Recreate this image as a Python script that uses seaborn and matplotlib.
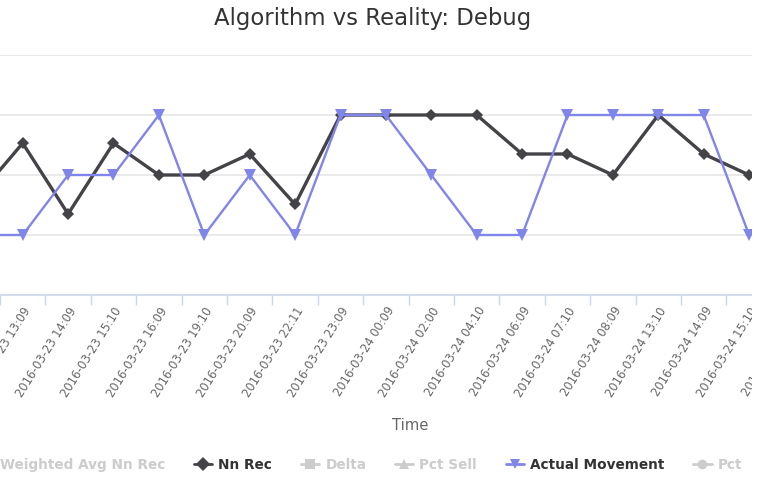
import matplotlib
matplotlib.use("Agg")
import matplotlib.pyplot as plt
from matplotlib.lines import Line2D
from matplotlib.patches import Rectangle
import numpy as np
import seaborn as sns

# categories (first and last are outside the visible crop)
times = [
    "2016-03-23 12:09", "2016-03-23 13:09", "2016-03-23 14:09", "2016-03-23 15:10",
    "2016-03-23 16:09", "2016-03-23 19:10", "2016-03-23 20:09", "2016-03-23 22:11",
    "2016-03-23 23:09", "2016-03-24 00:09", "2016-03-24 02:00", "2016-03-24 04:10",
    "2016-03-24 06:09", "2016-03-24 07:10", "2016-03-24 08:09", "2016-03-24 13:10",
    "2016-03-24 14:09", "2016-03-24 15:10", "2016-03-24 16:09",
]
nn_rec = [-0.36, 0.53, -0.65, 0.53, 0.0, 0.0, 0.35, -0.49, 1.0, 1.0,
          1.0, 1.0, 0.35, 0.35, 0.0, 1.0, 0.35, 0.0]
actual_movement = [-1, -1, 0, 0, 1, -1, 0, -1, 1, 1,
                   0, -1, -1, 1, 1, 1, 1, -1]

legend_names = ["Weighted Avg Nn Rec", "Nn Rec", "Delta", "Pct Sell", "Actual Movement", "Pct"]
legend_markers = ["o", "D", "s", "^", "v", "o"]
legend_visible = [False, True, False, False, True, False]
legend_colors = ["#cccccc", "#434348", "#cccccc", "#cccccc", "#8085e9", "#cccccc"]

sns.set_theme(style="white")
plt.rcParams['font.family'] = ['DejaVu Sans']

W, H = 780, 480
fig = plt.figure(figsize=(7.8, 4.8), dpi=100)
# plot area is wider than the picture: the screenshot was cropped
ax = fig.add_axes([-45.4 / W, 185 / H, 862.6 / W, 240 / H])

pos = np.arange(len(nn_rec))
sns.lineplot(x=pos, y=nn_rec, ax=ax, color="#434348", linewidth=2.4,
             marker="D", markersize=6, markeredgewidth=0)
sns.lineplot(x=pos, y=actual_movement, ax=ax, color="#8085e9", linewidth=1.7,
             marker="v", markersize=8, markeredgewidth=0)

ax.set_xlim(-0.5, len(times) - 0.5)
ax.set_ylim(-2, 2)
ax.set_yticks([-2, -1, 0, 1, 2])
ax.yaxis.grid(True, color="#e6e6e6", linewidth=1.2)
ax.tick_params(axis="y", left=False, labelleft=False)
for side in ["top", "right", "left"]:
    ax.spines[side].set_visible(False)
ax.spines["bottom"].set_color("#ccd6eb")
ax.spines["bottom"].set_linewidth(1.2)

ax.set_xticks(np.arange(len(times)))
ax.set_xticklabels(times, rotation=58, ha="right", va="top",
                   rotation_mode="anchor", fontsize=8.3, color="#666666")
ax.tick_params(axis="x", which="major", length=0, pad=7)
ax.set_xticks(np.arange(len(times) + 1) - 0.5, minor=True)
ax.tick_params(axis="x", which="minor", bottom=True, length=7,
               color="#ccd6eb", width=1, direction="out")

ax.set_xlabel("Time", fontsize=10.7, color="#666666")
ax.xaxis.set_label_coords((410 + 45.4) / 862.6, -123 / 240)

fig.text(373 / W, 1 - 18 / H, "Algorithm vs Reality: Debug",
         ha="center", va="center", fontsize=16.4, color="#333333")

handles = [Line2D([0], [0], color=c, lw=2, marker=m, markersize=7, markeredgewidth=0)
           for m, c in zip(legend_markers, legend_colors)]
leg = fig.legend(handles, legend_names, loc="center", bbox_to_anchor=(0.46, 15 / H),
                 ncol=6, frameon=False, prop={"weight": "bold", "size": 9.8},
                 handlelength=1.35, handletextpad=0.45, columnspacing=2.1)
for txt, vis in zip(leg.get_texts(), legend_visible):
    txt.set_color("#333333" if vis else "#cccccc")

# white strip on the right, as in the cropped screenshot
fig.add_artist(Rectangle((752 / W, 0), 1, 1, transform=fig.transFigure,
                         facecolor="white", edgecolor="none", zorder=100))

fig.savefig("out.png", dpi=100)
